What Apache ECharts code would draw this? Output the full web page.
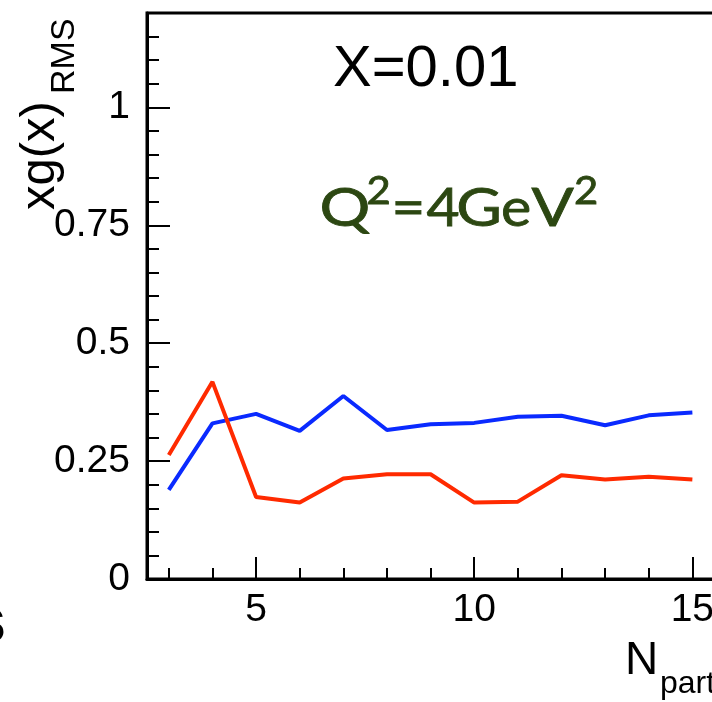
<!DOCTYPE html>
<html>
<head>
<meta charset="utf-8">
<script src="https://cdn.jsdelivr.net/npm/echarts@6/dist/echarts.min.js"></script>
<style>
html,body{margin:0;padding:0;background:#fff;}
#c{width:712px;height:702px;}
</style>
</head>
<body>
<div id="c"></div>
<script>
// ---- data ----
const nPar = [3, 4, 5, 6, 7, 8, 9, 10, 11, 12, 13, 14, 15];
const blueValues = [0.189, 0.330, 0.350, 0.314, 0.388, 0.316, 0.328, 0.331, 0.344, 0.346, 0.326, 0.347, 0.353];
const redValues  = [0.263, 0.418, 0.174, 0.162, 0.213, 0.222, 0.222, 0.162, 0.164, 0.220, 0.211, 0.217, 0.211];
const xMajorTicks = [5, 10, 15];
const xMinorTicks = [3, 4, 6, 7, 8, 9, 11, 12, 13, 14];
const yMajorTicks = [0, 0.25, 0.5, 0.75, 1];
const yMinorTicks = [0.05, 0.1, 0.15, 0.2, 0.3, 0.35, 0.4, 0.45, 0.55, 0.6, 0.65, 0.7, 0.8, 0.85, 0.9, 0.95, 1.05, 1.1, 1.15];

const FONT = 'Liberation Sans';
const chart = echarts.init(document.getElementById('c'), null, {renderer: 'canvas'});

const pairs = (xs, ys) => xs.map((x, i) => [x, ys[i]]);

const axisLineStyle = {color: '#000', width: 3};
const tickStyle = {color: '#000', width: 2};

// Q^2=4GeV^2 annotation, placed glyph by glyph to mimic the wide original typeface
const QCOL = '#2c4712';
const qMain = '52px Lato';
const qSup = '38px Lato';
const qGlyphs = [
  {t: 'Q', cx: 345, y: 209, f: qMain, sx: 1.22},
  {t: '2', cx: 378.5, y: 192, f: qSup, sx: 1.1},
  {t: '=', cx: 408.5, y: 209, f: qMain, sx: 1.12},
  {t: '4', cx: 443, y: 209, f: qMain, sx: 1.1},
  {t: 'G', cx: 479, y: 209, f: qMain, sx: 1.2},
  {t: 'e', cx: 516, y: 209, f: qMain, sx: 1.1},
  {t: 'V', cx: 552.5, y: 209, f: qMain, sx: 1.2},
  {t: '2', cx: 586, y: 192, f: qSup, sx: 1.1}
];

chart.setOption({
  animation: false,
  backgroundColor: '#fff',
  grid: {
    left: 147, top: 13, right: -24, bottom: 123,
    show: true, borderColor: '#000', borderWidth: 3,
    containLabel: false, outerBoundsMode: 'none'
  },
  xAxis: [
    {
      type: 'value', min: 2.5, max: 16, position: 'bottom',
      axisLine: {show: true, lineStyle: axisLineStyle},
      axisTick: {show: true, inside: true, length: 22, customValues: xMajorTicks, lineStyle: tickStyle},
      axisLabel: {show: true, customValues: xMajorTicks, fontSize: 39, fontFamily: FONT, color: '#000', margin: 12},
      splitLine: {show: false}
    },
    {
      type: 'value', min: 2.5, max: 16, position: 'bottom', offset: 0,
      axisLine: {show: false},
      axisTick: {show: true, inside: true, length: 11, customValues: xMinorTicks, lineStyle: tickStyle},
      axisLabel: {show: false},
      splitLine: {show: false}
    }
  ],
  yAxis: [
    {
      type: 'value', min: 0, max: 1.2, position: 'left',
      axisLine: {show: true, lineStyle: axisLineStyle},
      axisTick: {show: true, inside: true, length: 23, customValues: yMajorTicks, lineStyle: tickStyle},
      axisLabel: {show: true, customValues: yMajorTicks, fontSize: 39, fontFamily: FONT, color: '#000', margin: 17},
      splitLine: {show: false}
    },
    {
      type: 'value', min: 0, max: 1.2, position: 'left', offset: 0,
      axisLine: {show: false},
      axisTick: {show: true, inside: true, length: 12, customValues: yMinorTicks, lineStyle: tickStyle},
      axisLabel: {show: false},
      splitLine: {show: false}
    }
  ],
  series: [
    {
      name: 'blue', type: 'line', xAxisIndex: 0, yAxisIndex: 0,
      data: pairs(nPar, blueValues), symbol: 'none',
      lineStyle: {color: '#0a2aff', width: 4}, itemStyle: {color: '#0a2aff'}, z: 3
    },
    {
      name: 'red', type: 'line', xAxisIndex: 0, yAxisIndex: 0,
      data: pairs(nPar, redValues), symbol: 'none',
      lineStyle: {color: '#ff2a00', width: 4}, itemStyle: {color: '#ff2a00'}, z: 4
    }
  ],
  graphic: [
    {type: 'text', x: 333, y: 70, style: {text: 'X=0.01', font: '58px "Liberation Sans"', fill: '#000', align: 'left', verticalAlign: 'middle'}},
    ...qGlyphs.map(g => ({type: 'text', x: g.cx, y: g.y, scaleX: g.sx, style: {text: g.t, font: g.f, fill: QCOL, align: 'center', verticalAlign: 'middle', stroke: QCOL, lineWidth: 0.8}})),
    {type: 'text', x: 40, y: 210, rotation: Math.PI / 2, style: {text: 'xg(x)', font: '49px "Liberation Sans"', fill: '#000', align: 'left', verticalAlign: 'middle'}},
    {type: 'text', x: 65, y: 94, rotation: Math.PI / 2, style: {text: 'RMS', font: '34px "Liberation Sans"', fill: '#000', align: 'left', verticalAlign: 'middle'}},
    {type: 'text', x: 625, y: 661, style: {text: 'N', font: '46px "Liberation Sans"', fill: '#000', align: 'left', verticalAlign: 'middle'}},
    {type: 'text', x: 660, y: 684, style: {text: 'part', font: '32px "Liberation Sans"', fill: '#000', align: 'left', verticalAlign: 'middle'}},
    {type: 'text', x: 6, y: 624, style: {text: 's', font: 'bold 64px "Liberation Sans"', fill: '#000', align: 'right', verticalAlign: 'middle'}}
  ]
});
</script>
</body>
</html>
